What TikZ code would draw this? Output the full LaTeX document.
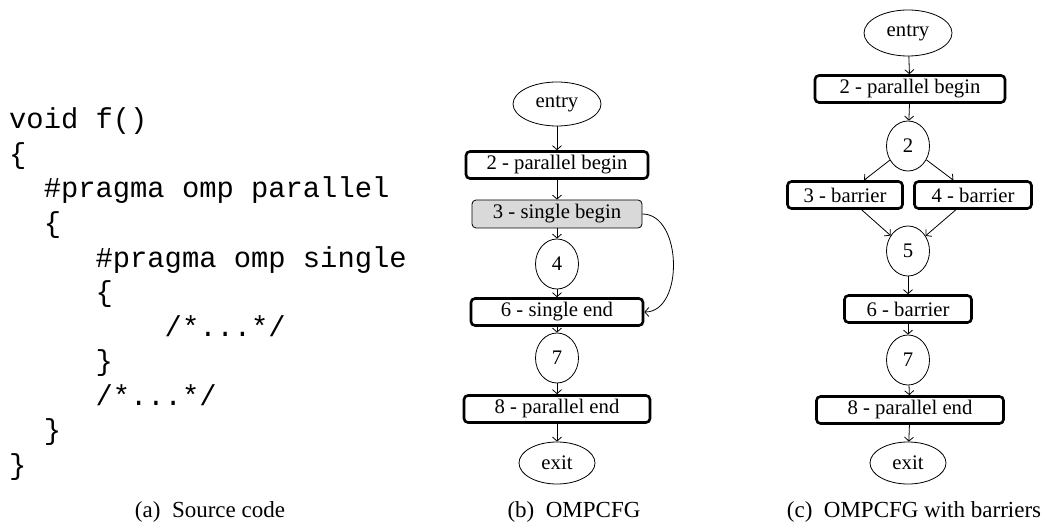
\documentclass[tikz,border=0pt]{standalone}
\usepackage{fontspec}
\setmainfont{Liberation Serif}
\setmonofont{Liberation Mono}
\usetikzlibrary{arrows.meta,shapes.geometric}
\begin{document}
\begin{tikzpicture}[x=1pt,y=-1pt,
  codeline/.style={anchor=base west,inner sep=0pt,font=\ttfamily\fontsize{28.8}{34.5}\selectfont},
  captext/.style={inner sep=0pt,font=\fontsize{23}{27}\selectfont},
  thickbox/.style={draw,line width=2.6pt,rounded corners=4pt,minimum height=27pt,inner sep=0pt,font=\fontsize{20.7}{24}\selectfont},
  graybox/.style={draw,line width=0.8pt,fill=black!15,rounded corners=4pt,minimum height=28pt,inner sep=0pt,font=\fontsize{20.7}{24}\selectfont},
  oval/.style={draw,ellipse,line width=0.8pt,inner sep=0pt,font=\fontsize{20.7}{24}\selectfont},
  numnode/.style={draw,ellipse,line width=0.8pt,inner sep=0pt,minimum width=43pt,minimum height=50pt,font=\fontsize{20.7}{24}\selectfont},
  conn/.style={line width=0.8pt,-{Straight Barb[length=4pt,width=9pt]}}
]
\useasboundingbox (0,0) rectangle (1048,529);
% (a) source code
\def\cw{17.28}
\node[codeline] (l1) at (9,129) {void f()};
\node[codeline] (l2) at (9,163.5) {\{};
\node[codeline] (l3) at (9+2*\cw,198) {\#pragma omp parallel};
\node[codeline] (l4) at (9+2*\cw,232.5) {\{};
\node[codeline] (l5) at (9+5*\cw,267) {\#pragma omp single};
\node[codeline] (l6) at (9+5*\cw,301.5) {\{};
\node[codeline] (l7) at (9+9*\cw,336) {/*...*/};
\node[codeline] (l8) at (9+5*\cw,370.5) {\}};
\node[codeline] (l9) at (9+5*\cw,405) {/*...*/};
\node[codeline] (l10) at (9+2*\cw,439.5) {\}};
\node[codeline] (l11) at (9,474) {\}};
\node[captext] (capa) at (210,512) {(a)\hspace{0.5em}Source code};
% (b) OMPCFG
\node[oval,minimum width=88pt,minimum height=44pt] (be) at (557,104) {entry};
\node[thickbox,minimum width=182pt] (b2) at (557,165) {2 - parallel begin};
\node[graybox,minimum width=170pt] (b3) at (557,214) {3 - single begin};
\node[numnode] (b4) at (557,264) {4};
\node[thickbox,minimum width=172pt] (b6) at (557,312) {6 - single end};
\node[numnode] (b7) at (557,358) {7};
\node[thickbox,minimum width=186pt] (b8) at (557,409) {8 - parallel end};
\node[oval,minimum width=76pt,minimum height=42pt] (bx) at (557,463) {exit};
\draw[conn] (be) -- (b2);
\draw[conn] (b2) -- (b3);
\draw[conn] (b3) -- (b4);
\draw[conn] (b4) -- (b6);
\draw[conn] (b6) -- (b7);
\draw[conn] (b7) -- (b8);
\draw[conn] (b8) -- (bx);
\draw[conn] (b3.east) .. controls +(40,0) and +(40,0) .. (b6.east);
\node[captext] (capb) at (574,512) {(b)\hspace{0.5em}OMPCFG};
% (c) OMPCFG with barriers
\node[oval,minimum width=88pt,minimum height=46pt] (ce) at (908,33) {entry};
\node[thickbox,minimum width=190pt] (c2) at (910,89) {2 - parallel begin};
\node[numnode] (cn2) at (908,146) {2};
\node[thickbox,minimum width=115pt] (c3) at (845,195) {3 - barrier};
\node[thickbox,minimum width=117pt] (c4) at (973,195) {4 - barrier};
\node[numnode] (c5) at (908,251) {5};
\node[thickbox,minimum width=127pt] (c6) at (908,309) {6 - barrier};
\node[numnode] (c7) at (908,360) {7};
\node[thickbox,minimum width=187pt] (c8) at (910,410) {8 - parallel end};
\node[oval,minimum width=76pt,minimum height=42pt] (cx) at (908,463) {exit};
\draw[conn] (ce) -- (c2);
\draw[conn] (c2) -- (cn2);
\draw[conn] (cn2) -- (c3);
\draw[conn] (cn2) -- (c4);
\draw[conn] (c3) -- (c5);
\draw[conn] (c4) -- (c5);
\draw[conn] (c5) -- (c6);
\draw[conn] (c6) -- (c7);
\draw[conn] (c7) -- (c8);
\draw[conn] (c8) -- (cx);
\node[captext] (capc) at (914,512) {(c)\hspace{0.5em}OMPCFG with barriers};
\end{tikzpicture}
\end{document}
